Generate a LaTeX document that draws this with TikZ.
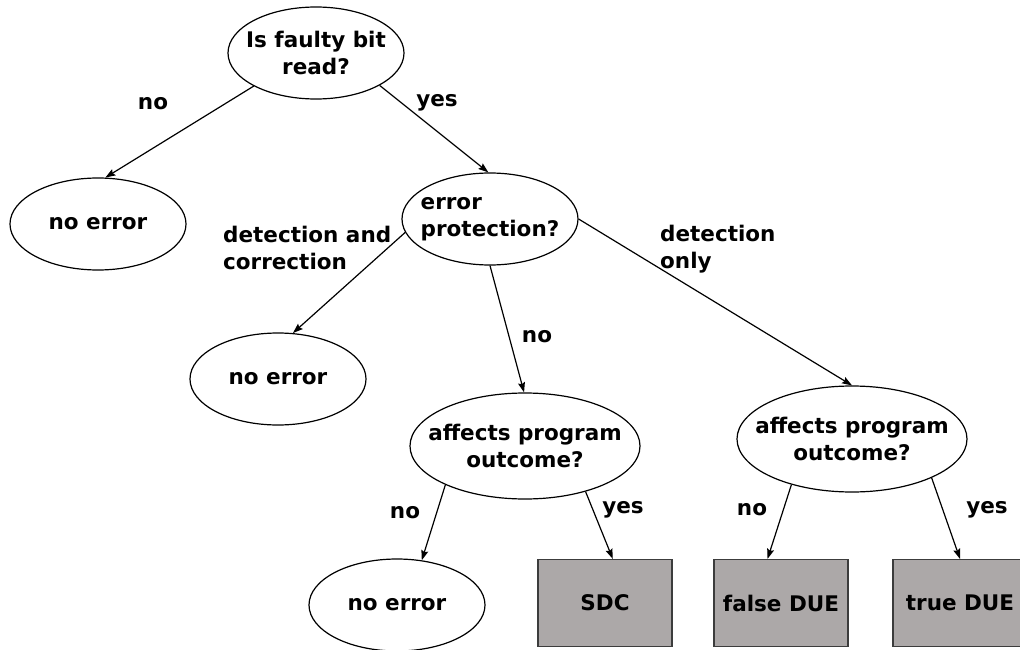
\documentclass[tikz,border=0pt]{standalone}
\usepackage{fontspec}
\setmainfont{DejaVu Sans}
\usetikzlibrary{shapes.geometric,arrows.meta}

\definecolor{boxfill}{RGB}{172,168,168}
\definecolor{boxedge}{RGB}{60,60,60}

\tikzset{
  txt/.style={font=\fontsize{21.5}{27}\selectfont\bfseries},
  % ellipse size fixed by minimum width/height, independent of the text
  question/.style={ellipse, draw, line width=1.2pt, inner sep=-100pt, txt,
    minimum width=176pt, minimum height=92pt, align=center},
  bigquestion/.style={question, minimum width=230pt, minimum height=106pt},
  outcome/.style={rectangle, draw=boxedge, fill=boxfill, line width=1.2pt,
    minimum width=134pt, minimum height=87pt, inner sep=0pt, txt},
  edgelabel/.style={txt, inner sep=0pt, align=left},
  link/.style={line width=1.2pt, -{Stealth[length=10pt,width=7pt,inset=1.5pt]}}
}

\begin{document}
\begin{tikzpicture}[x=1pt,y=-1pt]
  \useasboundingbox (0,0) rectangle (1020,650);
  \clip (0,0) rectangle (1020,650);

  % decision nodes
  \node[question] (read) at (316,53) {Is faulty bit\\read?};
  \node[question] (ne1) at (98,224) {no error};
  \node[question, align=left] (prot) at (490,219) {error\\protection?};
  \node[question] (ne2) at (278,379) {no error};
  \node[bigquestion] (aff1) at (525,446) {affects program\\outcome?};
  \node[bigquestion] (aff2) at (852,439) {affects program\\outcome?};
  \node[question] (ne3) at (397,605) {no error};

  % end states
  \node[outcome] (sdc) at (605,603) {SDC};
  \node[outcome] (fdue) at (781,603) {false DUE};
  \node[outcome] (tdue) at (960,603) {true DUE};

  % connectors
  \draw[link] (read.208) -- (ne1.81);
  \draw[link] (read.333) -- (prot.92);
  \draw[link] (prot.189) -- (ne2.72);
  \draw[link] (prot.270) -- (aff1.91);
  \draw[link] (prot.0) -- (aff2.90);
  \draw[link] (aff1.206) -- (ne3.61);
  \draw[link] (aff1.323) -- (sdc.80);
  \draw[link] (aff2.217) -- (fdue.107);
  \draw[link] (aff2.334) -- (tdue.90);

  % branch labels
  \node[edgelabel] (l1) at (153,104) {no};
  \node[edgelabel] (l2) at (437,103) {yes};
  \node[edgelabel, anchor=west] (l3) at (223,248) {detection and\\correction};
  \node[edgelabel, anchor=west] (l4) at (660,249) {detection\\only};
  \node[edgelabel] (l5) at (537,337) {no};
  \node[edgelabel] (l6) at (405,513) {no};
  \node[edgelabel] (l7) at (623,510) {yes};
  \node[edgelabel] (l8) at (752,510) {no};
  \node[edgelabel] (l9) at (987,510) {yes};
\end{tikzpicture}
\end{document}
